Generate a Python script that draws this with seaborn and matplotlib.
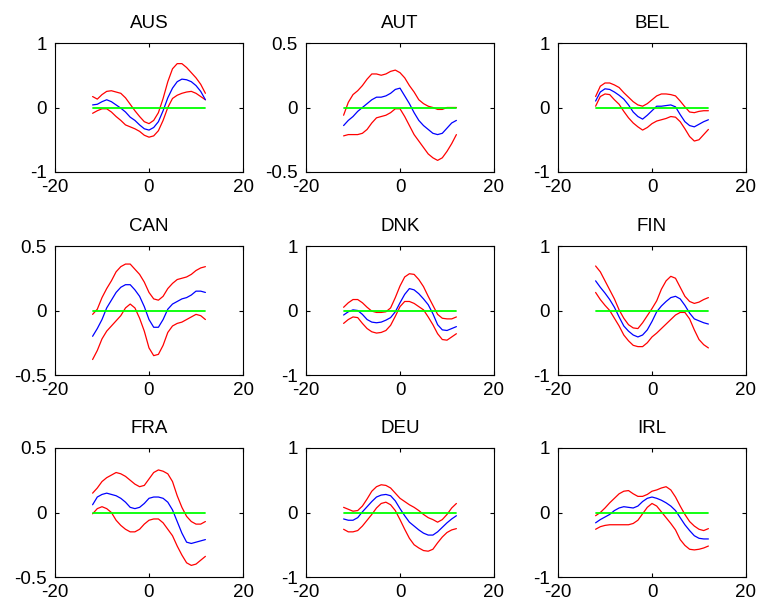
import matplotlib
matplotlib.use("Agg")
import matplotlib.pyplot as plt
import seaborn as sns
import pandas as pd

# Lags of the cross-correlation functions
lags = list(range(-12, 13))

countries = ["AUS", "AUT", "BEL", "CAN", "DNK", "FIN", "FRA", "DEU", "IRL"]
y_limits = [1.0, 0.5, 1.0, 0.5, 1.0, 1.0, 0.5, 1.0, 1.0]

# Point estimates (blue) and upper / lower bands (red)
aus_mid = [0.04, 0.05, 0.09, 0.12, 0.09, 0.04, -0.01, -0.07, -0.15, -0.20, -0.27, -0.33, -0.35,
           -0.31, -0.22, -0.05, 0.15, 0.30, 0.40, 0.44, 0.43, 0.40, 0.34, 0.25, 0.12]
aus_hi = [0.17, 0.13, 0.20, 0.25, 0.26, 0.24, 0.22, 0.15, 0.05, -0.05, -0.14, -0.22, -0.25,
          -0.20, -0.08, 0.14, 0.40, 0.60, 0.68, 0.68, 0.62, 0.54, 0.46, 0.36, 0.22]
aus_lo = [-0.09, -0.05, -0.02, -0.02, -0.07, -0.14, -0.20, -0.27, -0.30, -0.33, -0.37, -0.43, -0.46,
          -0.44, -0.36, -0.20, 0.00, 0.14, 0.19, 0.22, 0.24, 0.25, 0.22, 0.17, 0.12]

aut_mid = [-0.14, -0.10, -0.07, -0.03, 0.00, 0.03, 0.06, 0.08, 0.08, 0.09, 0.11, 0.14, 0.15,
           0.09, 0.03, -0.04, -0.10, -0.14, -0.17, -0.20, -0.21, -0.20, -0.16, -0.12, -0.10]
aut_hi = [-0.06, 0.04, 0.10, 0.13, 0.17, 0.22, 0.26, 0.26, 0.25, 0.26, 0.28, 0.29, 0.27,
          0.23, 0.17, 0.12, 0.06, 0.03, 0.01, 0.00, -0.015, -0.015, 0.00, 0.00, 0.00]
aut_lo = [-0.22, -0.21, -0.21, -0.21, -0.20, -0.17, -0.12, -0.08, -0.07, -0.06, -0.04, -0.01, -0.01,
          -0.07, -0.14, -0.21, -0.26, -0.31, -0.36, -0.39, -0.41, -0.39, -0.34, -0.28, -0.21]

bel_mid = [0.10, 0.24, 0.29, 0.28, 0.24, 0.19, 0.13, 0.04, -0.07, -0.14, -0.18, -0.12, -0.05,
           0.02, 0.02, 0.03, 0.04, 0.01, -0.11, -0.22, -0.28, -0.30, -0.26, -0.22, -0.19]
bel_hi = [0.17, 0.33, 0.38, 0.38, 0.35, 0.31, 0.23, 0.16, 0.09, 0.04, 0.02, 0.06, 0.12,
          0.18, 0.21, 0.21, 0.20, 0.18, 0.10, 0.01, -0.07, -0.08, -0.06, -0.05, -0.05]
bel_lo = [0.02, 0.17, 0.21, 0.20, 0.12, 0.05, -0.06, -0.16, -0.24, -0.30, -0.35, -0.31, -0.25,
          -0.21, -0.19, -0.17, -0.14, -0.15, -0.22, -0.33, -0.45, -0.52, -0.50, -0.42, -0.34]

can_mid = [-0.20, -0.14, -0.07, 0.02, 0.08, 0.14, 0.18, 0.20, 0.20, 0.16, 0.11, 0.03, -0.07,
           -0.13, -0.13, -0.07, 0.01, 0.05, 0.07, 0.09, 0.10, 0.12, 0.15, 0.15, 0.14]
can_hi = [-0.03, 0.01, 0.10, 0.17, 0.23, 0.30, 0.34, 0.36, 0.36, 0.32, 0.28, 0.22, 0.14,
          0.09, 0.08, 0.11, 0.17, 0.21, 0.24, 0.25, 0.26, 0.28, 0.31, 0.33, 0.34]
can_lo = [-0.38, -0.31, -0.22, -0.16, -0.12, -0.08, -0.04, 0.02, 0.05, 0.02, -0.06, -0.16, -0.29,
          -0.35, -0.34, -0.27, -0.17, -0.12, -0.10, -0.09, -0.07, -0.05, -0.03, -0.04, -0.07]

dnk_mid = [-0.07, -0.02, 0.01, 0.00, -0.06, -0.14, -0.18, -0.19, -0.18, -0.15, -0.11, -0.02, 0.12,
           0.25, 0.34, 0.32, 0.26, 0.18, 0.09, -0.05, -0.22, -0.30, -0.31, -0.28, -0.25]
dnk_hi = [0.05, 0.12, 0.17, 0.17, 0.12, 0.05, -0.01, -0.03, -0.03, -0.02, 0.04, 0.20, 0.38,
          0.52, 0.57, 0.56, 0.48, 0.37, 0.22, 0.08, -0.06, -0.12, -0.13, -0.13, -0.10]
dnk_lo = [-0.20, -0.14, -0.10, -0.11, -0.20, -0.28, -0.33, -0.35, -0.34, -0.31, -0.23, -0.09, 0.06,
          0.14, 0.14, 0.11, 0.06, 0.01, -0.10, -0.22, -0.36, -0.45, -0.46, -0.41, -0.36]

fin_mid = [0.46, 0.36, 0.27, 0.17, 0.05, -0.10, -0.24, -0.32, -0.38, -0.41, -0.38, -0.30, -0.17,
           -0.02, 0.07, 0.14, 0.20, 0.22, 0.18, 0.08, -0.04, -0.13, -0.16, -0.19, -0.21]
fin_hi = [0.69, 0.60, 0.46, 0.32, 0.18, 0.01, -0.12, -0.22, -0.27, -0.28, -0.19, -0.08, 0.03,
          0.15, 0.33, 0.46, 0.53, 0.50, 0.36, 0.22, 0.14, 0.11, 0.13, 0.17, 0.20]
fin_lo = [0.28, 0.17, 0.08, 0.00, -0.12, -0.24, -0.38, -0.47, -0.54, -0.56, -0.56, -0.50, -0.41,
          -0.35, -0.28, -0.21, -0.14, -0.07, -0.03, -0.03, -0.13, -0.30, -0.45, -0.53, -0.58]

fra_mid = [0.06, 0.12, 0.14, 0.15, 0.14, 0.13, 0.11, 0.08, 0.04, 0.03, 0.04, 0.07, 0.11,
           0.12, 0.12, 0.11, 0.08, 0.02, -0.07, -0.16, -0.23, -0.24, -0.23, -0.22, -0.21]
fra_hi = [0.15, 0.19, 0.24, 0.27, 0.29, 0.31, 0.30, 0.28, 0.25, 0.22, 0.20, 0.21, 0.26,
          0.31, 0.33, 0.32, 0.30, 0.24, 0.13, 0.04, -0.03, -0.07, -0.09, -0.09, -0.07]
fra_lo = [-0.01, 0.03, 0.045, 0.03, 0.00, -0.06, -0.10, -0.13, -0.15, -0.15, -0.13, -0.09, -0.06,
          -0.05, -0.05, -0.08, -0.13, -0.18, -0.26, -0.33, -0.39, -0.41, -0.40, -0.37, -0.34]

deu_mid = [-0.10, -0.12, -0.12, -0.08, 0.01, 0.09, 0.17, 0.24, 0.27, 0.28, 0.26, 0.18, 0.06,
           -0.05, -0.15, -0.21, -0.27, -0.32, -0.35, -0.35, -0.30, -0.23, -0.16, -0.10, -0.05]
deu_hi = [0.08, 0.05, 0.02, 0.03, 0.10, 0.21, 0.33, 0.40, 0.43, 0.42, 0.38, 0.30, 0.22,
          0.17, 0.12, 0.08, 0.03, -0.03, -0.08, -0.11, -0.15, -0.11, -0.03, 0.07, 0.14]
deu_lo = [-0.26, -0.30, -0.30, -0.28, -0.21, -0.12, -0.03, 0.07, 0.14, 0.16, 0.12, 0.03, -0.11,
          -0.26, -0.40, -0.50, -0.55, -0.59, -0.60, -0.57, -0.47, -0.38, -0.31, -0.27, -0.25]

irl_mid = [-0.16, -0.11, -0.07, -0.03, 0.03, 0.07, 0.09, 0.08, 0.07, 0.10, 0.17, 0.22, 0.24,
           0.22, 0.19, 0.15, 0.10, 0.03, -0.08, -0.19, -0.28, -0.36, -0.40, -0.41, -0.41]
irl_hi = [-0.05, 0.00, 0.07, 0.15, 0.22, 0.29, 0.33, 0.34, 0.29, 0.25, 0.25, 0.28, 0.33,
          0.35, 0.38, 0.40, 0.35, 0.24, 0.10, -0.03, -0.14, -0.21, -0.26, -0.28, -0.25]
irl_lo = [-0.26, -0.22, -0.20, -0.19, -0.19, -0.19, -0.19, -0.19, -0.17, -0.12, -0.02, 0.08, 0.14,
          0.10, 0.01, -0.08, -0.17, -0.27, -0.42, -0.51, -0.57, -0.58, -0.57, -0.55, -0.52]

mids = [aus_mid, aut_mid, bel_mid, can_mid, dnk_mid, fin_mid, fra_mid, deu_mid, irl_mid]
his = [aus_hi, aut_hi, bel_hi, can_hi, dnk_hi, fin_hi, fra_hi, deu_hi, irl_hi]
los = [aus_lo, aut_lo, bel_lo, can_lo, dnk_lo, fin_lo, fra_lo, deu_lo, irl_lo]

sns.set_theme(style="white")
plt.rcParams.update({
    "font.family": ["Liberation Sans", "DejaVu Sans"],
    "text.color": "black",
    "axes.labelcolor": "black",
    "axes.titlecolor": "black",
    "axes.unicode_minus": False,
    "axes.edgecolor": "black",
    "axes.linewidth": 0.8,
    "xtick.direction": "in",
    "ytick.direction": "in",
    "xtick.major.size": 3,
    "ytick.major.size": 3,
    "xtick.major.width": 0.8,
    "ytick.major.width": 0.8,
    "xtick.color": "black",
    "ytick.color": "black",
    "xtick.labelcolor": "black",
    "ytick.labelcolor": "black",
    "xtick.top": True,
    "ytick.right": True,
    "xtick.bottom": True,
    "ytick.left": True,
})

W, H = 762, 609
fig = plt.figure(figsize=(W / 100, H / 100), dpi=100)
fig.patch.set_facecolor("white")

col_left = [55, 306, 558]
row_top = [43, 246, 448]
ax_w, ax_h = 188, 129

for i, name in enumerate(countries):
    r, c = divmod(i, 3)
    left = col_left[c] / W
    bottom = 1 - (row_top[r] + ax_h) / H
    ax = fig.add_axes([left, bottom, ax_w / W, ax_h / H])

    df = pd.DataFrame({"lag": lags, "mid": mids[i], "hi": his[i], "lo": los[i],
                       "zero": [0.0] * len(lags)})
    sns.lineplot(data=df, x="lag", y="hi", color="#ff0000", lw=0.9, ax=ax,
                 estimator=None, legend=False)
    sns.lineplot(data=df, x="lag", y="lo", color="#ff0000", lw=0.9, ax=ax,
                 estimator=None, legend=False)
    sns.lineplot(data=df, x="lag", y="mid", color="#0000ff", lw=0.9, ax=ax,
                 estimator=None, legend=False)
    sns.lineplot(data=df, x="lag", y="zero", color="#00ff00", lw=1.3, ax=ax,
                 estimator=None, legend=False)

    lim = y_limits[i]
    ax.set_xlim(-20, 20)
    ax.set_ylim(-lim, lim)
    ax.set_xticks([-20, 0, 20])
    ax.set_xticklabels(["-20", "0", "20"])
    yt = [-lim, 0, lim]
    ax.set_yticks(yt)
    ax.set_yticklabels([f"{v:g}" for v in yt])
    ax.tick_params(axis="both", labelsize=13.5)
    ax.tick_params(axis="x", pad=5)
    ax.tick_params(axis="y", pad=6)
    ax.set_xlabel("")
    ax.set_ylabel("")
    ax.set_title(name, fontsize=13.5, pad=11)
    for sp in ax.spines.values():
        sp.set_visible(True)
        sp.set_color("black")

fig.savefig("out.png", dpi=100, facecolor="white")
